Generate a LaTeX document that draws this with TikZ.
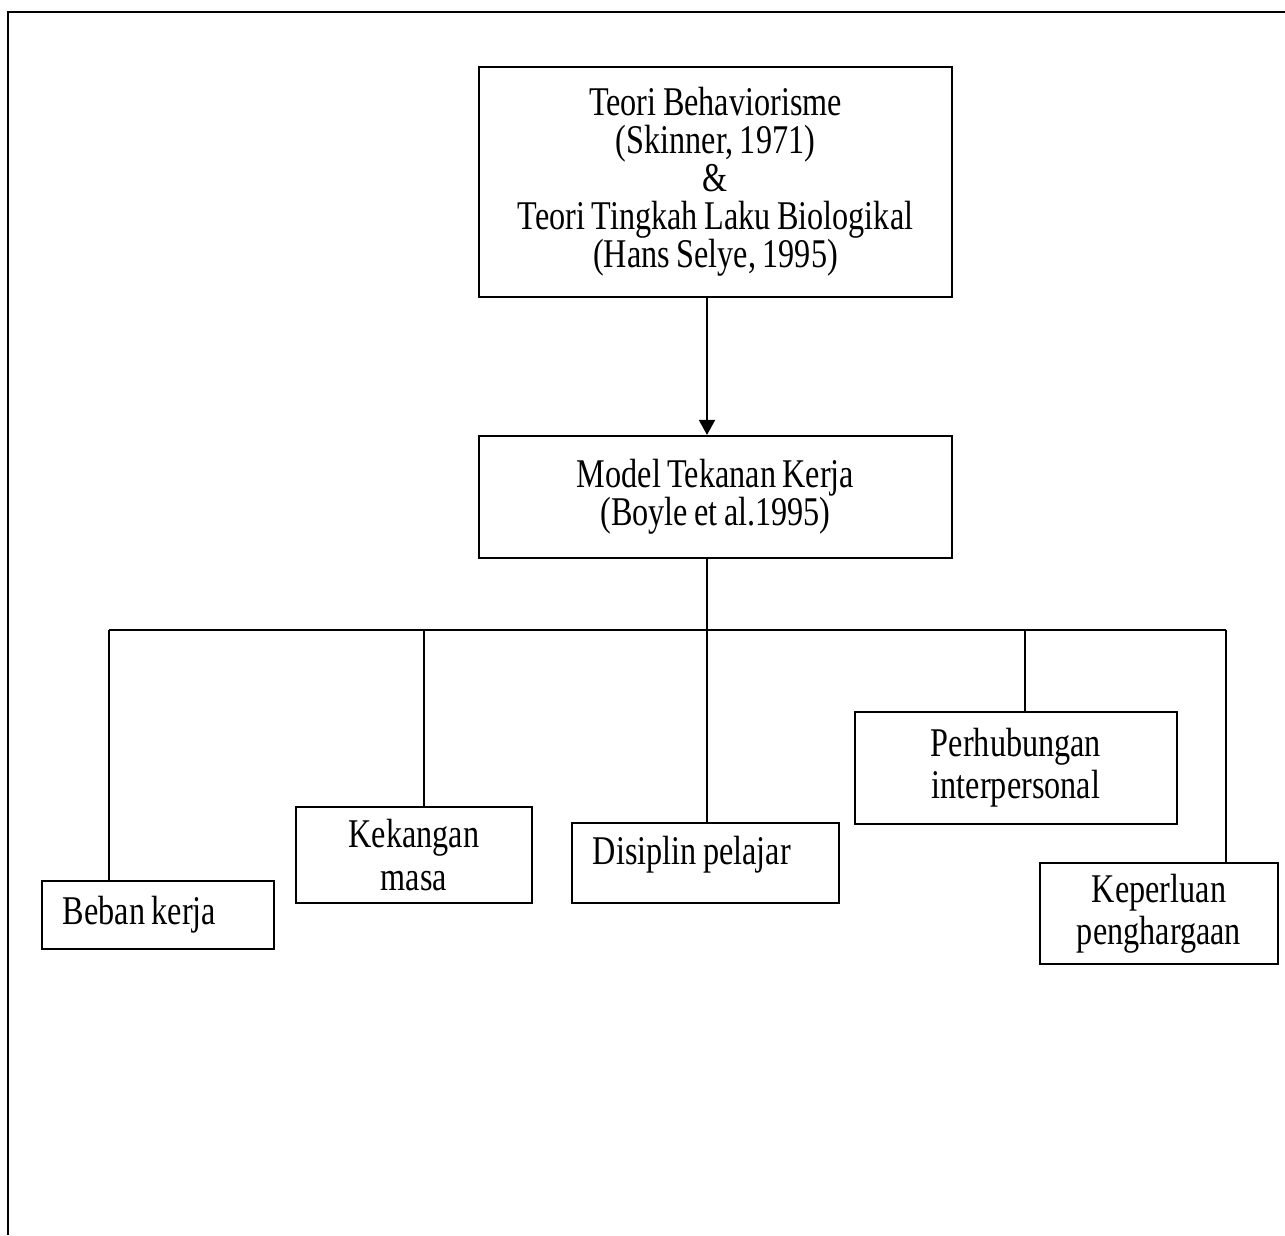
\documentclass[tikz,border=0pt]{standalone}
\usepackage{fontspec}
\setmainfont{Liberation Serif}[FakeStretch=0.79, WordSpace=0.8]
\usetikzlibrary{arrows.meta}
\tikzset{
	kotak/.style={draw, line width=0.6pt, inner sep=0pt, align=center, font=\fontsize{11.6}{10.8}\selectfont},
	kotakbawah/.style={kotak, font=\fontsize{11.6}{12}\selectfont},
	garis/.style={line width=0.5pt},
}

\begin{document}
\begin{tikzpicture}[x=0.01cm, y=-0.01cm]
			%%%%% START %%%%%
			
			\useasboundingbox (0, 0) rectangle (1285, 1235);
			\draw[line width=0.6pt] (8, 1235) -- (8, 12) -- (1285, 12);
			
			\node[kotak, minimum width=4.73cm, minimum height=2.30cm] (teori) at (715.5, 182) {Teori Behaviorisme\\(Skinner, 1971)\\\&\\Teori Tingkah Laku Biologikal\\(Hans Selye, 1995)};
			\node[kotak, minimum width=4.73cm, minimum height=1.22cm] (model) at (715.5, 497) {Model Tekanan Kerja\\(Boyle et al.1995)};
			
			\node[kotakbawah, minimum width=2.32cm, minimum height=0.68cm] (beban) at (158, 915) {\makebox[1.90cm][l]{Beban kerja}};
			\node[kotakbawah, minimum width=2.36cm, minimum height=0.96cm] (kekangan) at (414, 855) {Kekangan\\masa};
			\node[kotakbawah, minimum width=2.67cm, minimum height=0.80cm, text depth=0.25cm] (disiplin) at (705.5, 863) {\makebox[2.25cm][l]{Disiplin pelajar}};
			\node[kotakbawah, minimum width=3.22cm, minimum height=1.12cm] (perhubungan) at (1016, 768) {Perhubungan\\interpersonal};
			\node[kotakbawah, minimum width=2.38cm, minimum height=1.01cm] (keperluan) at (1159, 913.5) {Keperluan\\penghargaan};
			
			\coordinate (t1) at (109, 630);
			\coordinate (t2) at (424, 630);
			\coordinate (t3) at (707, 630);
			\coordinate (t4) at (1025, 630);
			\coordinate (t5) at (1226, 630);
			
			\draw[garis, -{Triangle[length=0.15cm, width=0.16cm]}] (teori.south -| t3) -- (model.north -| t3);
			\draw[garis] (model.south -| t3) -- (t3);
			\draw[garis] (t1) -- (t5);
			
			\draw[garis] (t1) -- (t1 |- beban.north);
			\draw[garis] (t2) -- (t2 |- kekangan.north);
			\draw[garis] (t3) -- (t3 |- disiplin.north);
			\draw[garis] (t4) -- (t4 |- perhubungan.north);
			\draw[garis] (t5) -- (t5 |- keperluan.north);
			
			%%%%% END %%%%%
\end{tikzpicture}
\end{document}
